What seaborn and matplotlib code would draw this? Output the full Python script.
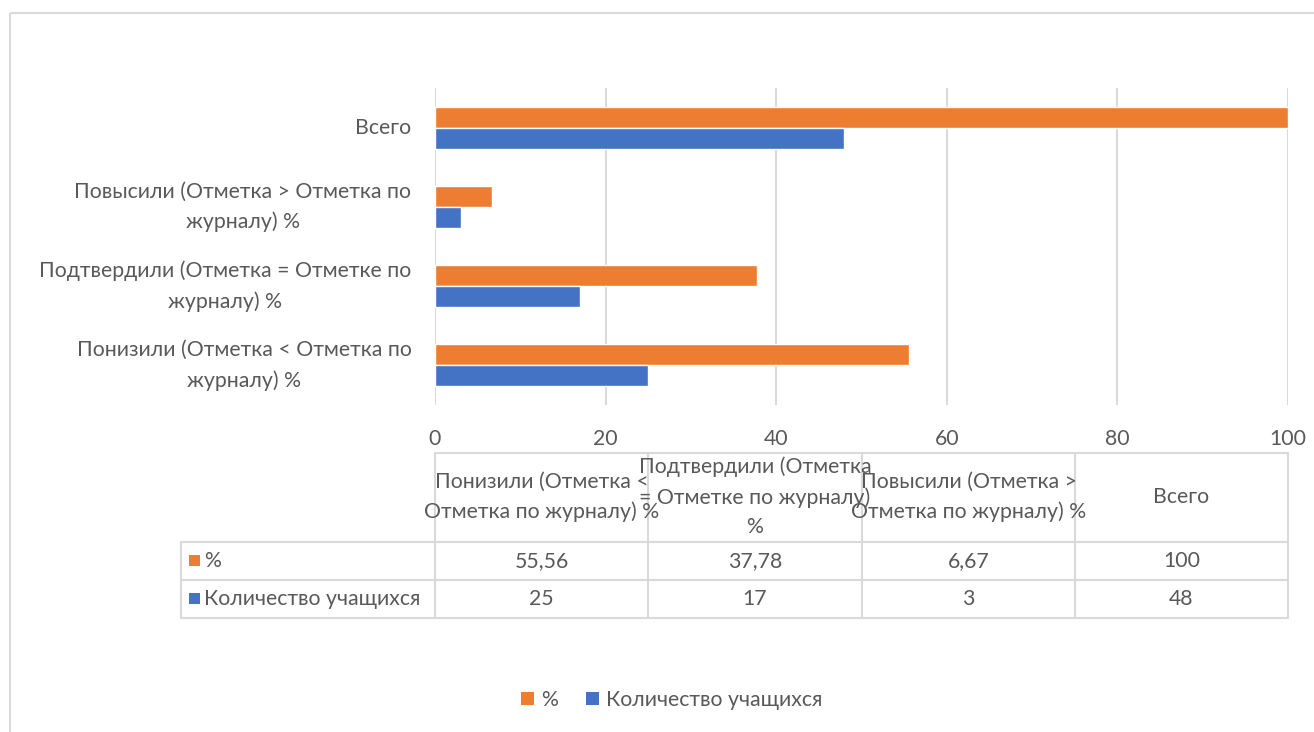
import pandas as pd
import matplotlib.pyplot as plt
import seaborn as sns
from matplotlib.transforms import Affine2D
from matplotlib.lines import Line2D
from matplotlib.patches import Rectangle

# Data
categories = [
    "Всего",
    "Повысили (Отметка > Отметка по\nжурналу) %",
    "Подтвердили (Отметка = Отметке по\nжурналу) %",
    "Понизили (Отметка < Отметка по\nжурналу) %",
]
table_headers = [
    "Понизили (Отметка <\nОтметка по журналу) %",
    "Подтвердили (Отметка\n= Отметке по журналу)\n%",
    "Повысили (Отметка >\nОтметка по журналу) %",
    "Всего",
]
series_names = ["%", "Количество учащихся"]
percent = [100, 6.67, 37.78, 55.56]          # same order as categories
students = [48, 3, 17, 25]
table_percent = [55.56, 37.78, 6.67, 100]    # table column order
table_students = [25, 17, 3, 48]

colors = {"%": "#ED7D31", "Количество учащихся": "#4472C4"}
text_col = "#595959"
grid_col = "#D9D9D9"
fs = 15.3

df = pd.DataFrame({
    "Категория": categories * 2,
    "Серия": [series_names[0]] * 4 + [series_names[1]] * 4,
    "Значение": percent + students,
})

sns.set_style("white")
plt.rcParams['font.family'] = ['Lato', 'DejaVu Sans']

W, H = 1314, 732
fig = plt.figure(figsize=(W / 100, H / 100), dpi=100)
ax = fig.add_axes([435 / W, 1 - 405 / H, (1288 - 435) / W, (405 - 88) / H])

sns.barplot(data=df, y="Категория", x="Значение", hue="Серия", order=categories,
            hue_order=series_names, palette=colors, orient="h", width=0.53,
            saturation=1, ax=ax)
ax.get_legend().remove()
ax.set_xlim(0, 100)
ax.set_xticks(range(0, 101, 20))
ax.set_xlabel("")
ax.set_ylabel("")
ax.grid(axis="x", color=grid_col, linewidth=1.5)
ax.set_axisbelow(True)
for s in ax.spines.values():
    s.set_visible(False)
ax.tick_params(axis="x", length=0, pad=17, labelsize=fs, labelcolor=text_col)
ax.tick_params(axis="y", length=0, pad=17, labelsize=fs, labelcolor=text_col)
for lbl in ax.get_yticklabels():
    lbl.set_multialignment("center")
    lbl.set_linespacing(1.6)
    lbl.set_verticalalignment("center")

# pixel coordinates (origin top-left) -> figure
px = Affine2D().scale(1 / W, -1 / H).translate(0, 1) + fig.transFigure

# outer chart border
fig.add_artist(Rectangle((10, 13), 1320, 740, transform=px, fill=False,
                         edgecolor=grid_col, linewidth=1.5))

# data table
cols = [435, 648, 862, 1075, 1288]
rows = [453, 542, 580, 618]
lw = 1.5
fig.add_artist(Line2D([435, 1288], [453, 453], transform=px, color=grid_col, lw=lw))
for y in rows[1:]:
    fig.add_artist(Line2D([181, 1288], [y, y], transform=px, color=grid_col, lw=lw))
for x in cols:
    fig.add_artist(Line2D([x, x], [453, 618], transform=px, color=grid_col, lw=lw))
fig.add_artist(Line2D([181, 181], [542, 618], transform=px, color=grid_col, lw=lw))


def fmt(v):
    return f"{v:g}".replace(".", ",")


for i, head in enumerate(table_headers):
    cx = (cols[i] + cols[i + 1]) / 2
    fig.text(cx, 497, head, transform=px, ha="center", va="center", fontsize=fs,
             color=text_col, linespacing=1.6)
    fig.text(cx, 561, fmt(table_percent[i]), transform=px, ha="center", va="center",
             fontsize=fs, color=text_col)
    fig.text(cx, 599, fmt(table_students[i]), transform=px, ha="center", va="center",
             fontsize=fs, color=text_col)

for y, name in zip([561, 599], series_names):
    fig.add_artist(Rectangle((189, y - 6), 11, 11, transform=px,
                             facecolor=colors[name], edgecolor="none"))
    fig.text(204, y, name, transform=px, ha="left", va="center", fontsize=fs,
             color=text_col)

# legend
handles = [Rectangle((0, 0), 1, 1, facecolor=colors[n], edgecolor="none")
           for n in series_names]
fig.legend(handles, series_names, loc="center", bbox_to_anchor=(672 / W, 1 - 700 / H),
           ncol=2, frameon=False, fontsize=fs, labelcolor=text_col, handlelength=0.6,
           handleheight=0.6, handletextpad=0.35, columnspacing=1.3)

fig.savefig("out.png", dpi=100)
